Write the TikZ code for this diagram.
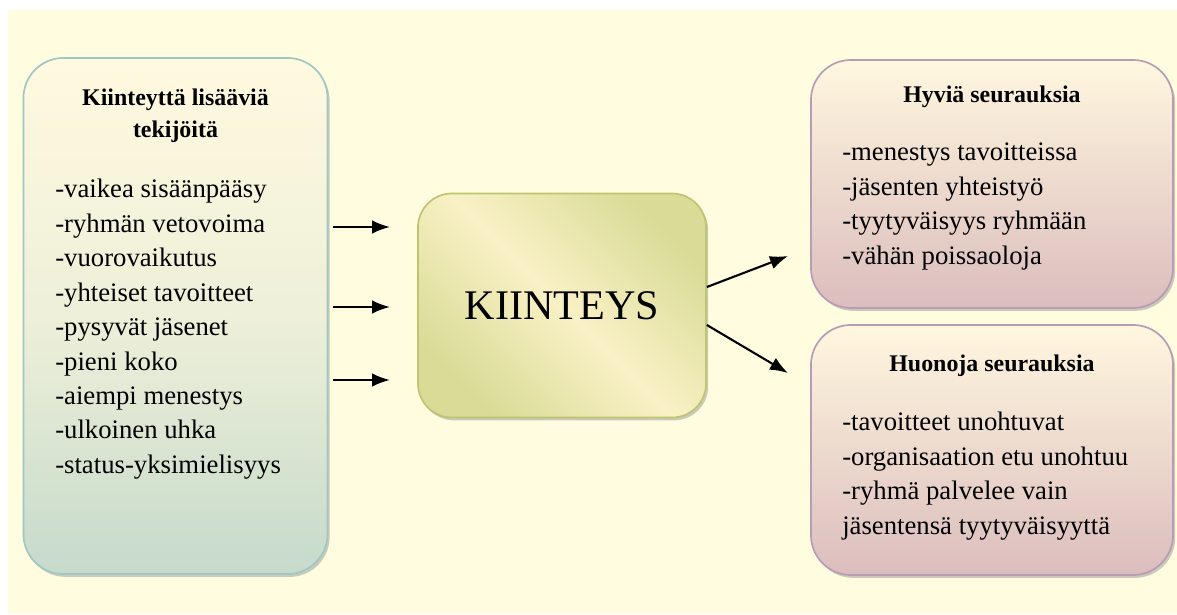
\documentclass[tikz,border=0pt]{standalone}
\usepackage{fontspec}
\setmainfont{Liberation Serif}
\usepackage{tikz}
\usetikzlibrary{calc}
\usetikzlibrary{positioning, arrows.meta, shadows}

\definecolor{bgcream}{HTML}{FFFCE0}
\definecolor{leftedge}{HTML}{9FC7C4}
\definecolor{lefttop}{HTML}{FFF9DF}
\definecolor{leftbot}{HTML}{C6DACB}
\definecolor{midedge}{HTML}{BFC46F}
\definecolor{midlight}{HTML}{F9F1C6}
\definecolor{middark}{HTML}{D9DB96}
\definecolor{rightedge}{HTML}{B89CB4}
\definecolor{righttop}{HTML}{FFF7DF}
\definecolor{rightbot}{HTML}{DBBDBD}

\begin{document}
\begin{tikzpicture}[
  x=0.025cm, y=-0.025cm,
  box/.style={draw, line width=1.2pt, rounded corners=1cm, inner sep=0pt,
              drop shadow={shadow xshift=1.5pt, shadow yshift=-2pt,
                           opacity=0.45, fill=black!45}},
  causes/.style={box, draw=leftedge, top color=lefttop, bottom color=leftbot,
                 middle color=lefttop!70!leftbot,
                 minimum width=7.6cm, minimum height=12.9cm},
  core/.style={box, draw=midedge, rounded corners=0.85cm,
               left color=middark, right color=middark, middle color=midlight,
               shading angle=135,
               minimum width=7.2cm, minimum height=5.6cm},
  effects/.style={box, draw=rightedge, top color=righttop, bottom color=rightbot,
                  minimum width=9.05cm, minimum height=6.2cm},
  heading/.style={font=\fontsize{17}{23}\selectfont\bfseries, align=center, inner sep=0pt},
  items/.style={font=\fontsize{19}{24.5}\selectfont, align=left, inner sep=0pt},
  arrow/.style={-{Latex[length=4.5mm,width=3.4mm]}, line width=1.5pt}
]
\useasboundingbox (0,0) rectangle (1177,614);
\fill[bgcream] (8,10) rectangle (1177,614);

% boxes
\node[causes] (causes) at (175.5,316) {};
\node[core] (core) at (562,305.5) {};
\node[effects] (good) at (992,184) {};
\node[effects, minimum height=6.25cm] (bad) at (992,450) {};

% texts
\node[heading, anchor=north] (causestitle) at ($(causes.north)+(0,-0.78cm)$)
  {Kiinteyttä lisääviä\\tekijöitä};
\node[items, anchor=north west] (causeslist) at (55,179)
  {-vaikea sisäänpääsy\\-ryhmän vetovoima\\-vuorovaikutus\\-yhteiset tavoitteet\\
   -pysyvät jäsenet\\-pieni koko\\-aiempi menestys\\-ulkoinen uhka\\-status-yksimielisyys};
\node[font=\fontsize{30}{36}\selectfont] (coretext) at (core.center) {KIINTEYS};
\node[heading, anchor=north] (goodtitle) at ($(good.north)+(0,-0.65cm)$) {Hyviä seurauksia};
\node[items, anchor=north west] (goodlist) at (842,143)
  {-menestys tavoitteissa\\-jäsenten yhteistyö\\-tyytyväisyys ryhmään\\-vähän poissaoloja};
\node[heading, anchor=north] (badtitle) at ($(bad.north)+(0,-0.75cm)$) {Huonoja seurauksia};
\node[items, anchor=north west] (badlist) at (842,412)
  {-tavoitteet unohtuvat\\-organisaation etu unohtuu\\-ryhmä palvelee vain\\jäsentensä tyytyväisyyttä};

% connectors
\coordinate (in1) at (333,227);
\coordinate (in2) at (333,307);
\coordinate (in3) at (333,380);
\coordinate (out1) at (788,256);
\coordinate (out2) at (788,373);
\draw[arrow] (in1) -- ++(57,0);
\draw[arrow] (in2) -- ++(57,0);
\draw[arrow] (in3) -- ++(57,0);
\draw[arrow] (core.east |- 0,287) -- (out1);
\draw[arrow] (core.east |- 0,325) -- (out2);
\end{tikzpicture}
\end{document}
